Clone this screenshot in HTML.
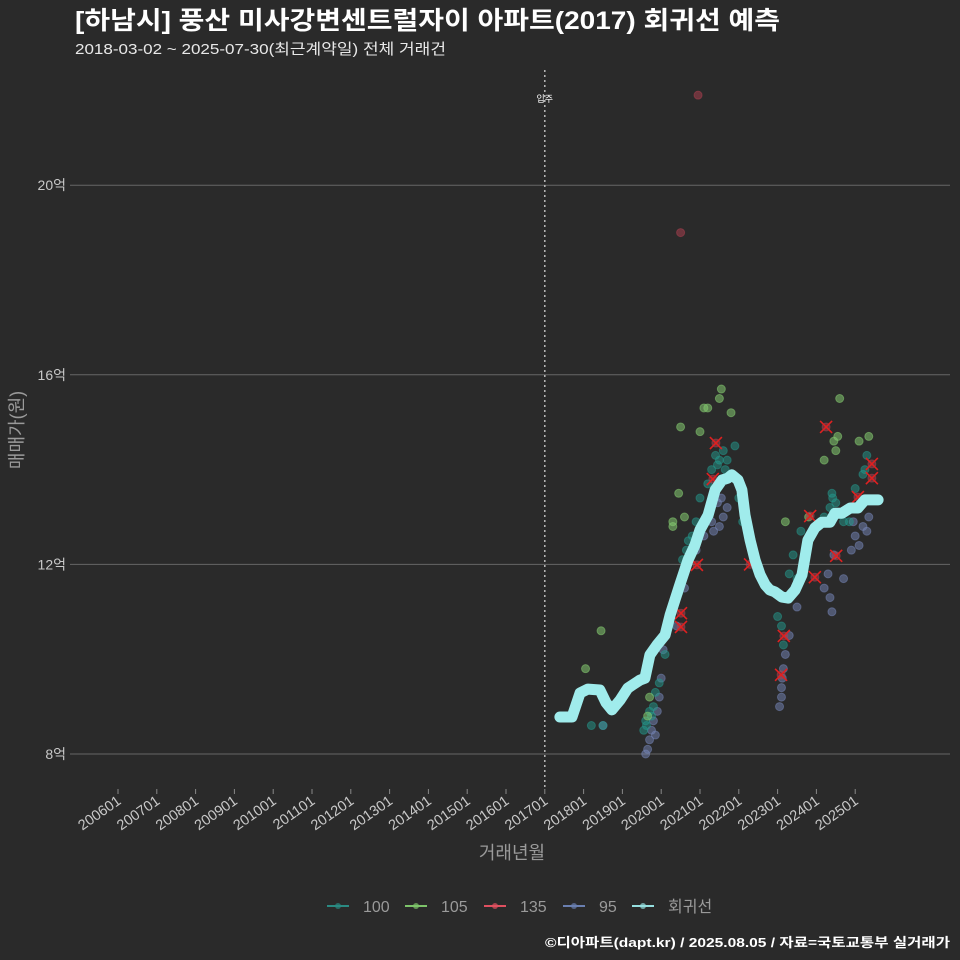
<!DOCTYPE html>
<html><head><meta charset="utf-8">
<style>
html,body{margin:0;padding:0;background:#2a2a2a;}
svg{display:block;font-family:"Liberation Sans","Noto Sans CJK KR",sans-serif;}
</style></head>
<body>
<svg id="chart" width="960" height="960" viewBox="0 0 960 960">
<rect width="960" height="960" fill="#2a2a2a"/>
<text x="75" y="29" font-size="25" font-weight="bold" fill="#ffffff" textLength="705" lengthAdjust="spacingAndGlyphs">[하남시] 풍산 미사강변센트럴자이 아파트(2017) 회귀선 예측</text>
<text x="75" y="54" font-size="15" fill="#e8e8e8" textLength="371" lengthAdjust="spacingAndGlyphs">2018-03-02 ~ 2025-07-30(최근계약일) 전체 거래건</text>
<g id="grid"></g>
<g id="yticks"></g>
<g id="xticks"></g>
<g id="marks"></g>
<text x="512" y="859" font-size="18" fill="#9a9a9a" text-anchor="middle">거래년월</text>
<text transform="translate(23,430) rotate(-90)" font-size="18" fill="#9a9a9a" text-anchor="middle">매매가(원)</text>
<g id="legend"></g>
<text x="545" y="947" font-size="13" font-weight="bold" fill="#ffffff" textLength="405" lengthAdjust="spacingAndGlyphs">©디아파트(dapt.kr) / 2025.08.05 / 자료=국토교통부 실거래가</text>
</svg>
<script>
const yTicks = [8, 12, 16, 20];
const xTickYears = [2006,2007,2008,2009,2010,2011,2012,2013,2014,2015,2016,2017,2018,2019,2020,2021,2022,2023,2024,2025];
const moveInYear = 2017.0;
const regT = [2017.39,2017.70,2017.91,2018.11,2018.42,2018.58,2018.73,2018.94,2019.14,2019.45,2019.58,2019.71,2019.89,2020.10,2020.23,2020.48,2020.69,2020.87,2021.00,2021.21,2021.39,2021.57,2021.72,2021.82,2021.98,2022.08,2022.16,2022.29,2022.42,2022.55,2022.68,2022.80,2022.93,2023.11,2023.27,2023.45,2023.63,2023.78,2023.96,2024.14,2024.35,2024.48,2024.66,2024.87,2025.07,2025.25,2025.38,2025.59];
const regV = [8.78,8.78,9.29,9.37,9.35,9.08,8.93,9.14,9.39,9.56,9.60,10.09,10.30,10.51,10.93,11.57,12.09,12.41,12.73,13.04,13.57,13.78,13.82,13.89,13.78,13.57,13.04,12.51,12.09,11.78,11.57,11.46,11.42,11.31,11.29,11.46,11.78,12.51,12.77,12.89,12.89,13.08,13.08,13.19,13.19,13.36,13.36,13.36];
const s95 = [[2019.6,8.0],[2019.65,8.1],[2019.7,8.3],[2019.75,8.5],[2019.8,8.7],[2019.9,8.9],[2019.95,9.2],[2020.0,9.6],[2020.05,10.2],[2020.4,10.7],[2020.6,11.5],[2020.9,12.3],[2021.1,12.6],[2021.3,12.9],[2021.45,13.3],[2021.6,13.0],[2021.5,12.8],[2021.7,13.2],[2023.05,9.0],[2023.1,9.4],[2023.15,9.8],[2023.2,10.1],[2023.3,10.5],[2023.1,9.2],[2023.5,11.1],[2024.2,11.5],[2024.3,11.8],[2024.4,11.0],[2024.35,11.3],[2024.45,12.2],[2024.9,12.3],[2025.0,12.6],[2025.1,12.4],[2025.2,12.8],[2025.3,12.7],[2024.7,11.7],[2018.5,8.6],[2019.2,9.4],[2021.35,12.7],[2021.55,13.4],[2024.95,12.9],[2025.35,13.0],[2019.85,8.4],[2023.12,9.6]];
const s100 = [[2019.55,8.5],[2019.6,8.7],[2019.7,8.9],[2019.8,9.0],[2019.85,9.3],[2019.95,9.5],[2020.1,10.1],[2020.2,10.7],[2020.35,11.2],[2020.45,11.4],[2020.55,12.1],[2020.7,12.5],[2020.8,12.6],[2020.9,12.9],[2021.0,13.4],[2021.2,13.7],[2021.3,14.0],[2021.4,14.3],[2021.5,14.2],[2021.6,14.4],[2021.7,14.2],[2021.8,13.9],[2021.4,13.6],[2021.55,13.8],[2021.9,14.5],[2022.0,13.4],[2022.1,12.9],[2023.0,10.9],[2023.1,10.7],[2023.15,10.3],[2023.3,11.8],[2023.4,12.2],[2023.6,12.7],[2023.5,11.7],[2023.9,12.7],[2024.2,13.0],[2024.35,13.2],[2024.4,13.5],[2024.45,13.1],[2024.5,13.3],[2024.7,12.9],[2025.0,13.6],[2025.2,13.9],[2025.3,14.3],[2024.85,12.9],[2018.2,8.6],[2018.5,8.6],[2019.0,9.2],[2019.62,8.6],[2019.75,8.8],[2021.45,14.1],[2021.65,14.0],[2024.42,13.4],[2025.25,14.0],[2020.65,12.3]];
const s105 = [[2018.45,10.6],[2018.05,9.8],[2019.7,9.2],[2019.65,8.8],[2020.3,12.8],[2020.45,13.5],[2020.5,14.9],[2020.6,13.0],[2021.1,15.3],[2021.2,15.3],[2021.5,15.5],[2021.55,15.7],[2021.8,15.2],[2021.0,14.8],[2023.2,12.9],[2023.8,13.0],[2024.2,14.2],[2024.45,14.6],[2024.55,14.7],[2024.6,15.5],[2025.1,14.6],[2025.35,14.7],[2024.5,14.4],[2020.3,12.9]];
const s135 = [[2020.95,21.9],[2020.5,19.0],[2020.51,10.68],[2020.51,10.97],[2020.92,11.99],[2021.41,14.56],[2021.33,13.80],[2022.29,12.0],[2023.16,10.49],[2023.09,9.67],[2023.84,13.02],[2024.51,12.18],[2024.25,14.90],[2025.07,13.42],[2025.43,13.82],[2025.43,14.12],[2023.96,11.73]];
const crosses = [[2020.51,10.68],[2020.51,10.97],[2020.92,11.99],[2021.41,14.56],[2021.33,13.80],[2022.29,12.0],[2023.16,10.49],[2023.09,9.67],[2023.84,13.02],[2024.51,12.18],[2024.25,14.90],[2025.07,13.42],[2025.43,13.82],[2025.43,14.12],[2023.96,11.73]];
const legendLabels = ["100","105","135","95","회귀선"];
const legendColors = ["#2a8a82","#7dc46a","#e05060","#6a7fb0","#96e0e0"];

const NS="http://www.w3.org/2000/svg";
function X(t){return 118+(t-2006)*38.8;}
function Y(v){return 754-(v-8)*47.4;}
function mk(tag,attrs,parent){const e=document.createElementNS(NS,tag);for(const k in attrs)e.setAttribute(k,attrs[k]);parent.appendChild(e);return e;}
const grid=document.getElementById('grid'),yt=document.getElementById('yticks'),xt=document.getElementById('xticks'),marks=document.getElementById('marks'),lg=document.getElementById('legend');
yTicks.forEach(v=>{
  const l=mk('line',{x1:70,x2:950,y1:Y(v),y2:Y(v),stroke:'#666',"stroke-width":1},grid);
  
  
  const t=mk('text',{x:66,y:Y(v)+5,"font-size":14,fill:'#c8c8c8',"text-anchor":'end'},yt);
  t.textContent=v+'억';
  
  
});
xTickYears.forEach(yr=>{
  const x=X(yr);
  const tk=mk('line',{x1:x,x2:x,y1:789,y2:794,stroke:'#888'},xt);
  
  
  const t=mk('text',{transform:`translate(${x+4},${803}) rotate(-35)`,"font-size":14.5,fill:'#c8c8c8',"text-anchor":'end'},xt);
  t.textContent=yr+'01';
  
  
});
const mv=mk('line',{x1:X(moveInYear),x2:X(moveInYear),y1:70,y2:790,stroke:'#bbb',"stroke-width":1.5,"stroke-dasharray":'2,3'},marks);


const mvt=mk('text',{x:X(moveInYear),y:102,"font-size":9,fill:'#fff',"text-anchor":'middle'},marks);
mvt.textContent='입주';


function pts(arr,color,op,name){arr.forEach(p=>{
  const c=mk('circle',{cx:X(p[0]),cy:Y(p[1]),r:4,fill:color,"fill-opacity":op,stroke:color,"stroke-opacity":op},marks);
  
  
});}
pts(s95,'#7586b8',0.5,'point-95');
pts(s100,'#23978c',0.5,'point-100');
pts(s105,'#84c870',0.55,'point-105');
pts(s135,'#b04050',0.5,'point-135');
crosses.forEach(p=>{
  const x=X(p[0]),y=Y(p[1]);
  const g=mk('path',{d:`M${x-6},${y-6}L${x+6},${y+6}M${x-6},${y+6}L${x+6},${y-6}`,stroke:'#e02020',"stroke-width":1.6},marks);
  
  
});
const d=regT.map((t,i)=>(i?'L':'M')+X(t).toFixed(1)+','+Y(regV[i]).toFixed(1)).join('');
const rl=mk('path',{d:d,fill:'none',stroke:'#a0ecec',"stroke-width":11,"stroke-linecap":'round',"stroke-linejoin":'round'},marks);


const lx=[327,405,484,563,632];
legendLabels.forEach((lab,i)=>{
  const x=lx[i];
  const l=mk('line',{x1:x,x2:x+22,y1:906,y2:906,stroke:legendColors[i],"stroke-width":2},lg);
  
  
  const c=mk('circle',{cx:x+11,cy:906,r:3,fill:legendColors[i],"fill-opacity":0.7},lg);
  
  
  const t=mk('text',{x:x+36,y:912,"font-size":16,fill:'#9a9a9a'},lg);
  t.textContent=lab;
  
  
});
</script>
</body></html>
